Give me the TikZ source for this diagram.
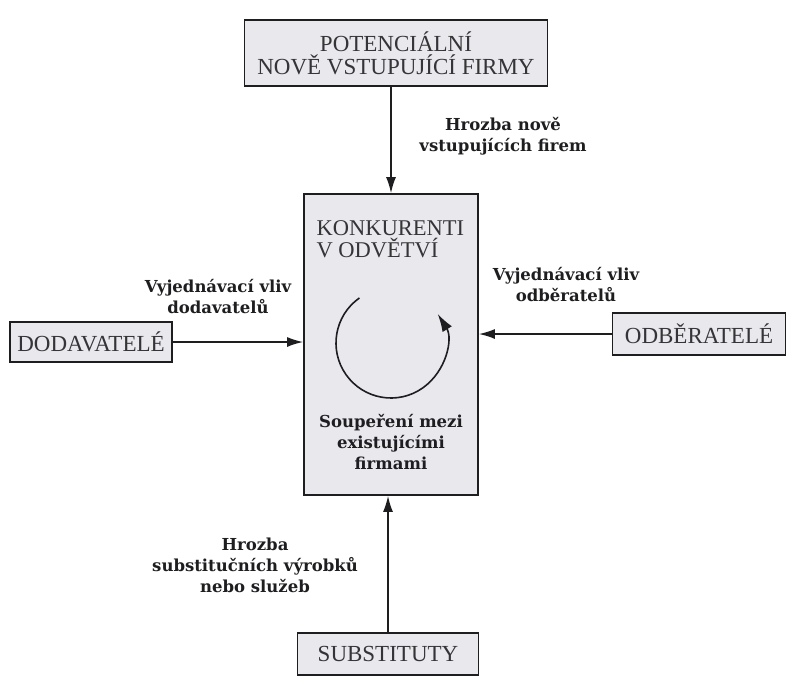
\documentclass[tikz,border=0pt]{standalone}
\usepackage{fontspec}
\setmainfont{Liberation Serif}
\newfontfamily\lblfont{DejaVu Serif}
\usetikzlibrary{arrows.meta}
\definecolor{boxfill}{RGB}{232,232,237}
\definecolor{ink}{RGB}{30,30,33}
\tikzset{
  x=1pt, y=-1pt,
  box/.style={draw=ink, line width=1.8pt, fill=boxfill, inner sep=0pt, align=center,
              font=\fontsize{23}{23}\selectfont, text=ink!90},
  lbl/.style={align=center, font=\lblfont\bfseries\fontsize{16.5}{21}\selectfont, text=ink},
  arr/.style={draw=ink, line width=1.5pt, -{Latex[length=16pt,width=10pt]}},
}
\begin{document}
\begin{tikzpicture}
\useasboundingbox[fill=white] (0,0) rectangle (787,678);
\node[box, minimum width=303pt, minimum height=66pt] (top) at (396,53) {POTENCIÁLNÍ\\NOVĚ VSTUPUJÍCÍ FIRMY};
\node[box, minimum width=174pt, minimum height=301pt] (ctr) at (391,344.5) {};
\node[align=left, anchor=west, font=\fontsize{22.5}{22}\selectfont, text=ink!90] (title) at (313,239) {KONKURENTI\\V ODVĚTVÍ};
\node[lbl] (riv) at (391,442) {Soupeření mezi\\existujícími\\firmami};
\coordinate (rc) at (391,343);
\draw[arr, line width=1.6pt, -{Latex[length=18pt,width=11pt]}] ([shift={(125:55pt)}]rc) arc[start angle=125, end angle=392, radius=55pt];
\node[box, minimum width=162pt, minimum height=40pt] (dod) at (91,342) {DODAVATELÉ};
\node[box, minimum width=173pt, minimum height=42pt] (odb) at (699,334) {ODBĚRATELÉ};
\node[box, minimum width=181pt, minimum height=42pt] (sub) at (388,654) {SUBSTITUTY};
\draw[arr] (top.south -| ctr.north) -- (ctr.north);
\draw[arr] (dod.east) -- (dod.east -| ctr.west);
\draw[arr] (odb.west) -- (odb.west -| ctr.east);
\draw[arr] (sub.north) -- (sub.north |- ctr.south);
\node[lbl] (l1) at (503,136) {Hrozba nově\\vstupujících firem};
\node[lbl] (l2) at (218,297) {Vyjednávací vliv\\dodavatelů};
\node[lbl] (l3) at (566,285) {Vyjednávací vliv\\odběratelů};
\node[lbl] (l4) at (255,565) {Hrozba\\substitučních výrobků\\nebo služeb};
\end{tikzpicture}
\end{document}
